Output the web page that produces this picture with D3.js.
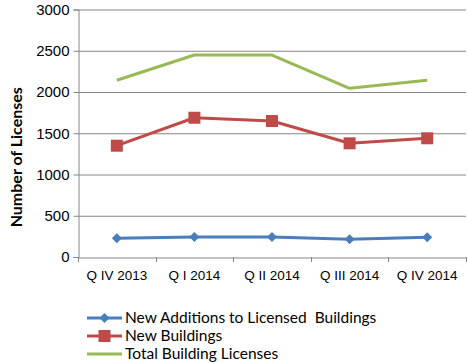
<!DOCTYPE html>
<html><head><meta charset="utf-8">
<script src="https://cdn.jsdelivr.net/npm/d3@7"></script>
<style>body{margin:0;background:#fff;} svg{display:block;font-family:Lato, "Open Sans", sans-serif;}</style>
</head><body>
<svg id="c" width="467" height="363"></svg>
<script>
const categories = ["Q IV 2013","Q I 2014","Q II 2014","Q III 2014","Q IV 2014"];
const additions = [227, 242, 242, 214, 239];
const newBuildings = [1349, 1688, 1648, 1378, 1439];
const total = [2142, 2448, 2448, 2045, 2142];
const yTicks = [0,500,1000,1500,2000,2500,3000];
const seriesNames = ["New Additions to Licensed  Buildings","New Buildings","Total Building Licenses"];
const colors = ["#4A7EBB","#BE4B48","#98B954"];

const svg = d3.select("#c");
const L=78, R=466, T=9.5, B=257;
const x = d3.scaleBand().domain(categories).range([L,R]);
const y = d3.scaleLinear().domain([0,3000]).range([B,T]);

// gridlines
svg.append("g").selectAll("line").data(yTicks.slice(1)).join("line")
  .attr("x1",L).attr("x2",R).attr("y1",d=>y(d)+0.5).attr("y2",d=>y(d)+0.5)
  .attr("stroke","#868686").attr("stroke-width",1);

const ya = svg.append("g").attr("transform",`translate(${L+0.5},0)`)
  .call(d3.axisLeft(y).tickValues(yTicks).tickFormat(d3.format("d")).tickSize(5).tickPadding(4));
ya.select(".domain").attr("stroke","#868686");
ya.selectAll(".tick line").attr("stroke","#868686");
ya.selectAll("text").attr("font-size",15).attr("fill","#000");

const xa = svg.append("g").attr("transform",`translate(0,${B+0.5})`)
  .call(d3.axisBottom(x).tickSize(0).tickPadding(13));
xa.select(".domain").attr("stroke","#868686");
xa.selectAll("text").attr("font-size",13.5).attr("fill","#000");
// category boundary ticks
svg.append("g").selectAll("line").data(categories.map(c=>x(c)).concat([R])).join("line")
  .attr("x1",d=>Math.round(d)+0.5).attr("x2",d=>Math.round(d)+0.5).attr("y1",B).attr("y2",B+5)
  .attr("stroke","#868686");

svg.append("text").attr("transform",`translate(16,${(T+B)/2 + 24}) rotate(-90)`)
  .attr("text-anchor","middle").attr("dy","0.35em").attr("font-size",16).attr("font-weight","bold").text("Number of Licenses");

const cx = c=>x(c)+x.bandwidth()/2;
const data=[additions,newBuildings,total];
const line = d3.line().x((d,i)=>cx(categories[i])).y(d=>y(d));
data.forEach((s,k)=>{
  svg.append("path").attr("d",line(s)).attr("fill","none").attr("stroke",colors[k]).attr("stroke-width",3).attr("stroke-linejoin","round");
});
// markers
svg.append("g").selectAll("path").data(additions).join("path")
  .attr("d",d3.symbol().type(d3.symbolSquare).size(50)())
  .attr("transform",(d,i)=>`translate(${cx(categories[i])},${y(d)}) rotate(45)`)
  .attr("fill",colors[0]);
svg.append("g").selectAll("rect").data(newBuildings).join("rect")
  .attr("x",(d,i)=>cx(categories[i])-6).attr("y",d=>y(d)-6).attr("width",12).attr("height",12)
  .attr("fill",colors[1]);

// legend
const lg = svg.append("g");
const ly=[318,336,354];
seriesNames.forEach((n,k)=>{
  lg.append("line").attr("x1",87).attr("x2",122).attr("y1",ly[k]).attr("y2",ly[k]).attr("stroke",colors[k]).attr("stroke-width",3);
  lg.append("text").attr("x",125).attr("y",ly[k]).attr("dy","0.35em").attr("font-size",15.5).attr("xml:space","preserve").text(n);
});
lg.append("path").attr("d",d3.symbol().type(d3.symbolSquare).size(50)()).attr("transform",`translate(104.5,${ly[0]}) rotate(45)`).attr("fill",colors[0]);
lg.append("rect").attr("x",98.5).attr("y",ly[1]-6).attr("width",12).attr("height",12).attr("fill",colors[1]);
</script>
</body></html>
